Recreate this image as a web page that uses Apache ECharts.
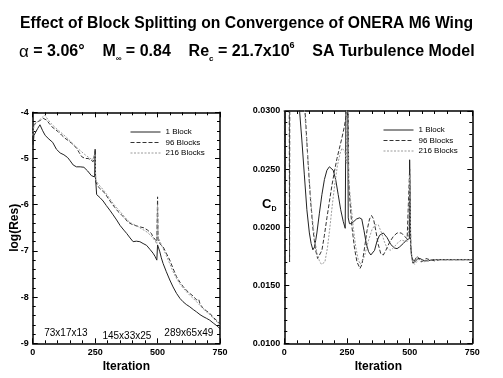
<!DOCTYPE html>
<html><head><meta charset="utf-8">
<script src="https://cdn.jsdelivr.net/npm/echarts@6/dist/echarts.min.js"></script>
<style>html,body{margin:0;padding:0;background:#fff}#c{width:503px;height:378px}</style>
</head><body><div id="c"></div>
<script>
// ---- data ----
const seriesNames = ['1 Block', '96 Blocks', '216 Blocks'];
const xTicks = [0, 250, 500, 750];
const resTicks = [-9, -8, -7, -6, -5, -4];
const cdTicks = [0.0100, 0.0150, 0.0200, 0.0250, 0.0300];

// log(Res) vs iteration
const res1 = [[0,-4.35],[2,-4.7],[5,-4.5],[10,-4.45],[20,-4.35],[29,-4.27],[40,-4.4],[50,-4.5],[65,-4.58],[80,-4.65],[95,-4.8],[110,-4.88],[125,-4.92],[140,-4.98],[150,-5.05],[162,-5.14],[175,-5.18],[190,-5.18],[205,-5.19],[220,-5.27],[235,-5.37],[248,-5.4],[250,-4.8],[252,-5.45],[256,-5.78],[262,-5.82],[270,-5.85],[282,-5.92],[295,-6.02],[309,-6.12],[322,-6.22],[336,-6.33],[350,-6.45],[365,-6.55],[376,-6.62],[390,-6.72],[402,-6.8],[415,-6.79],[429,-6.8],[442,-6.84],[456,-6.88],[470,-6.97],[482,-7.05],[490,-7.12],[497,-7.2],[500,-6.87],[503,-6.9],[509,-7.02],[515,-7.15],[522,-7.27],[535,-7.45],[549,-7.63],[562,-7.78],[576,-7.92],[590,-8.03],[602,-8.1],[615,-8.16],[629,-8.21],[643,-8.27],[656,-8.32],[670,-8.38],[682,-8.42],[696,-8.46],[709,-8.5],[725,-8.57],[742,-8.64],[750,-8.69]];
const res96 = [[0,-4.55],[3,-4.3],[8,-4.25],[15,-4.22],[22,-4.2],[32,-4.17],[42,-4.13],[50,-4.12],[56,-4.17],[66,-4.24],[76,-4.31],[90,-4.37],[102,-4.42],[115,-4.49],[129,-4.56],[142,-4.61],[156,-4.67],[166,-4.72],[176,-4.78],[186,-4.87],[196,-4.96],[210,-5.0],[222,-5.0],[232,-5.03],[242,-5.07],[248,-5.08],[250,-4.85],[252,-5.5],[262,-5.61],[275,-5.68],[289,-5.75],[302,-5.86],[316,-5.97],[329,-6.06],[342,-6.15],[355,-6.22],[369,-6.29],[380,-6.37],[395,-6.42],[410,-6.45],[429,-6.48],[445,-6.5],[460,-6.55],[475,-6.62],[482,-6.7],[490,-6.75],[497,-6.8],[500,-5.83],[502,-6.75],[510,-6.85],[522,-6.91],[535,-7.05],[549,-7.2],[562,-7.38],[576,-7.56],[590,-7.68],[602,-7.77],[615,-7.85],[629,-7.92],[643,-7.98],[656,-8.06],[665,-8.05],[670,-8.15],[682,-8.24],[696,-8.3],[709,-8.35],[725,-8.45],[742,-8.53],[750,-8.58]];
const res216 = [[0,-4.5],[3,-4.35],[10,-4.25],[20,-4.2],[30,-4.15],[40,-4.1],[49,-4.06],[60,-4.15],[75,-4.25],[90,-4.33],[105,-4.4],[120,-4.47],[135,-4.54],[150,-4.62],[165,-4.7],[180,-4.78],[195,-4.85],[210,-4.92],[225,-4.98],[240,-5.03],[248,-5.06],[250,-4.9],[252,-5.45],[262,-5.55],[275,-5.63],[289,-5.72],[302,-5.82],[316,-5.93],[329,-6.02],[342,-6.1],[355,-6.18],[369,-6.27],[380,-6.34],[395,-6.4],[410,-6.44],[429,-6.5],[445,-6.55],[460,-6.6],[475,-6.68],[490,-6.78],[497,-6.85],[500,-6.0],[502,-6.7],[510,-6.8],[522,-6.95],[535,-7.1],[549,-7.28],[562,-7.45],[576,-7.6],[590,-7.72],[602,-7.8],[615,-7.88],[629,-7.96],[643,-8.03],[656,-8.1],[670,-8.18],[682,-8.25],[696,-8.32],[709,-8.38],[725,-8.47],[742,-8.56],[750,-8.62]];

// C_D vs iteration
const cd1 = [[0,0.045],[2,0.02],[4,0.05],[7,0.031],[9,0.06],[12,0.04],[15,0.06],[20,0.05],[30,0.045],[45,0.038],[55,0.033],[61,0.0300],[70,0.0275],[80,0.0245],[90,0.0215],[100,0.0195],[107,0.0186],[114,0.01805],[121,0.0183],[130,0.0195],[140,0.0212],[150,0.0228],[160,0.0241],[170,0.0249],[180,0.0252],[187,0.0252],[195,0.0249],[205,0.0241],[215,0.0228],[225,0.0215],[235,0.0205],[243,0.0199],[248,0.01975],[250,0.045],[253,0.045],[255,0.0208],[260,0.0203],[268,0.0203],[278,0.0205],[288,0.0207],[300,0.0208],[309,0.0207],[318,0.0197],[327,0.0186],[336,0.0179],[345,0.0176],[352,0.0176],[360,0.0180],[370,0.0188],[380,0.0193],[395,0.0195],[410,0.0191],[425,0.0185],[440,0.0182],[450,0.01815],[460,0.0183],[475,0.0186],[488,0.0189],[499,0.0190],[500,0.0258],[502,0.0258],[504,0.0185],[508,0.0175],[513,0.0169],[518,0.0169],[525,0.0171],[533,0.0173],[541,0.0173],[550,0.0172],[560,0.0171],[575,0.0171],[590,0.0172],[610,0.0172],[640,0.0172],[680,0.0172],[720,0.0172],[750,0.0172]];
const cd96 = [[0,0.05],[1,0.0137],[3,0.05],[8,0.045],[14,0.06],[19,0.04],[21,0.0170],[23,0.05],[35,0.05],[50,0.045],[65,0.038],[75,0.033],[83,0.0300],[95,0.0255],[105,0.0222],[115,0.0197],[125,0.0180],[133,0.0173],[140,0.0172],[150,0.0180],[160,0.0193],[170,0.0208],[180,0.0222],[190,0.0236],[200,0.0248],[210,0.0259],[220,0.0268],[230,0.0277],[240,0.0287],[246,0.0295],[250,0.045],[254,0.045],[257,0.0240],[262,0.0222],[270,0.0200],[280,0.0182],[290,0.0170],[302,0.01644],[310,0.0168],[320,0.0182],[330,0.0197],[340,0.0207],[348,0.0210],[356,0.0207],[365,0.0197],[375,0.0185],[385,0.0177],[395,0.0176],[405,0.0180],[420,0.0187],[435,0.0192],[450,0.0195],[467,0.0195],[480,0.0192],[490,0.0190],[497,0.0190],[500,0.0250],[502,0.0250],[505,0.0180],[510,0.0174],[516,0.0170],[522,0.0171],[530,0.0175],[537,0.0173],[545,0.0170],[555,0.0171],[565,0.0173],[580,0.0172],[600,0.0171],[620,0.0172],[660,0.0172],[700,0.0172],[750,0.0172]];
const cd216 = [[0,0.05],[2,0.03],[5,0.06],[10,0.04],[16,0.055],[20,0.045],[30,0.05],[50,0.045],[65,0.037],[75,0.033],[81,0.0300],[90,0.0272],[100,0.0240],[110,0.0212],[120,0.0192],[130,0.0178],[140,0.0171],[148,0.0168],[154,0.01675],[162,0.0170],[172,0.0182],[182,0.0200],[192,0.0220],[202,0.0238],[212,0.0253],[222,0.0263],[230,0.0268],[236,0.0269],[242,0.0265],[248,0.0255],[250,0.045],[253,0.045],[256,0.0242],[265,0.0222],[275,0.0200],[285,0.0183],[295,0.0172],[303,0.0168],[310,0.0169],[320,0.0175],[335,0.0188],[350,0.0198],[362,0.0202],[375,0.0202],[388,0.0195],[400,0.0187],[410,0.0182],[422,0.0180],[435,0.0182],[450,0.0186],[467,0.0189],[480,0.0188],[495,0.0188],[500,0.0245],[502,0.0245],[505,0.0178],[512,0.0170],[520,0.0168],[527,0.0169],[535,0.0172],[545,0.0172],[555,0.0170],[570,0.0171],[590,0.0172],[620,0.0172],[680,0.0172],[750,0.0172]];

// grid-size annotations on the left plot: [text, iteration, log(Res)]
const gridNotes = [['73x17x13', 133, -8.78], ['145x33x25', 377, -8.84], ['289x65x49', 625, -8.78]];

// ---- chart ----
const FONT = '"Liberation Sans", Arial, Helvetica, sans-serif';
const styles = [
  {color: '#222', type: 'solid'},
  {color: '#333', type: [4, 2]},
  {color: '#9a9a9a', type: [2, 1.5]}
];
function xAxes(gi) {
  const base = {gridIndex: gi, type: 'value', min: xTicks[0], max: xTicks[xTicks.length-1], interval: 250,
    axisLine: {show: true, onZero: false, lineStyle: {color: '#000', width: 1.5}},
    axisTick: {show: true, inside: true, length: 5, lineStyle: {color: '#000'}},
    minorTick: {show: true, splitNumber: 5, length: 3, lineStyle: {color: '#000'}},
    splitLine: {show: false}, minorSplitLine: {show: false}};
  return [
    Object.assign({}, base, {position: 'bottom',
      axisLabel: {color: '#000', fontSize: 9, fontFamily: FONT, fontWeight: 'bold', margin: 5},
      name: 'Iteration', nameLocation: 'middle', nameGap: 17, nameMoveOverlap: false,
      nameTextStyle: {color: '#000', fontSize: 12, fontWeight: 'bold', fontFamily: FONT}}),
    Object.assign({}, base, {position: 'top', axisLabel: {show: false}})
  ];
}
function yAxes(gi, ticks, interval, fmt, name) {
  const base = {gridIndex: gi, type: 'value', min: ticks[0], max: ticks[ticks.length-1], interval: interval,
    axisLine: {show: true, onZero: false, lineStyle: {color: '#000', width: 1.5}},
    axisTick: {show: true, inside: true, length: 5, lineStyle: {color: '#000'}},
    minorTick: {show: true, splitNumber: 5, length: 3, lineStyle: {color: '#000'}},
    splitLine: {show: false}, minorSplitLine: {show: false}};
  const left = Object.assign({}, base, {position: 'left',
    axisLabel: {color: '#000', fontSize: 9, fontFamily: FONT, fontWeight: 'bold', margin: 4, formatter: fmt}});
  if (name) Object.assign(left, {name: name, nameLocation: 'middle', nameGap: 12, nameRotate: 90, nameMoveOverlap: false,
    nameTextStyle: {color: '#000', fontSize: 12, fontWeight: 'bold', fontFamily: FONT}});
  return [left, Object.assign({}, base, {position: 'right', axisLabel: {show: false}})];
}
function mk(name, data, k, xi, yi, extra) {
  return Object.assign({name: name, type: 'line', data: data, xAxisIndex: xi, yAxisIndex: yi,
    symbol: 'none', showSymbol: false, clip: true, animation: false,
    lineStyle: {color: styles[k].color, type: styles[k].type, width: 1},
    itemStyle: {color: styles[k].color}}, extra || {});
}
const legendBase = {data: seriesNames, orient: 'vertical', padding: 0, itemWidth: 30, itemHeight: 8, itemGap: 2.5,
  itemStyle: {opacity: 0}, lineStyle: {width: 1}, textStyle: {fontSize: 8, fontFamily: FONT, color: '#000'}, selectedMode: false};
const chart = echarts.init(document.getElementById('c'), null, {renderer: 'canvas'});
chart.setOption({
  backgroundColor: '#fff',
  animation: false,
  title: [
    {text: 'Effect of Block Splitting on Convergence of ONERA M6 Wing', left: 15, top: 11,
      textStyle: {fontSize: 15.7, fontWeight: 'bold', fontFamily: FONT, color: '#000'}},
    {text: '{a|α} = 3.06°    M{sub|∞} = 0.84    Re{sub|c} = 21.7x10{sup|6}    SA Turbulence Model', left: 14, top: 36,
      textStyle: {fontSize: 16, fontWeight: 'bold', fontFamily: FONT, color: '#000',
        rich: {
          a: {fontSize: 17, fontWeight: 'normal', fontFamily: FONT, color: '#000', lineHeight: 22, verticalAlign: 'middle'},
          sub: {fontSize: 8, fontWeight: 'bold', fontFamily: FONT, color: '#000', lineHeight: 9, verticalAlign: 'bottom'},
          sup: {fontSize: 9, fontWeight: 'bold', fontFamily: FONT, color: '#000', lineHeight: 9, verticalAlign: 'top'}
        }}}
  ],
  legend: [
    Object.assign({}, legendBase, {left: 130, top: 128}),
    Object.assign({}, legendBase, {left: 383, top: 126})
  ],
  grid: [
    {left: 32.7, top: 112.3, width: 187.3, height: 231, containLabel: false},
    {left: 284.3, top: 111, width: 188, height: 232.3, containLabel: false}
  ],
  xAxis: xAxes(0).concat(xAxes(1)),
  yAxis: yAxes(0, resTicks, 1, v => String(v), 'log(Res)').concat(yAxes(1, cdTicks, 0.005, v => v.toFixed(4), null)),
  graphic: [
    {type: 'text', left: 262, top: 198, style: {text: '{c|C}{d|D}', rich: {
      c: {fontSize: 13, fontWeight: 'bold', fontFamily: FONT, fill: '#000', lineHeight: 16, verticalAlign: 'middle'},
      d: {fontSize: 7, fontWeight: 'bold', fontFamily: FONT, fill: '#000', lineHeight: 8, verticalAlign: 'bottom'}}}}
  ],
  series: [
    mk(seriesNames[0], res1, 0, 0, 0, {markPoint: {symbol: 'circle', symbolSize: 1, itemStyle: {color: 'rgba(0,0,0,0)'},
      label: {show: true, position: 'inside', color: '#000', fontSize: 10, fontFamily: FONT, formatter: p => p.name},
      data: gridNotes.map(n => ({name: n[0], coord: [n[1], n[2]]}))}}),
    mk(seriesNames[1], res96, 1, 0, 0),
    mk(seriesNames[2], res216, 2, 0, 0),
    mk(seriesNames[0], cd1, 0, 2, 2),
    mk(seriesNames[1], cd96, 1, 2, 2),
    mk(seriesNames[2], cd216, 2, 2, 2)
  ]
});
</script></body></html>
